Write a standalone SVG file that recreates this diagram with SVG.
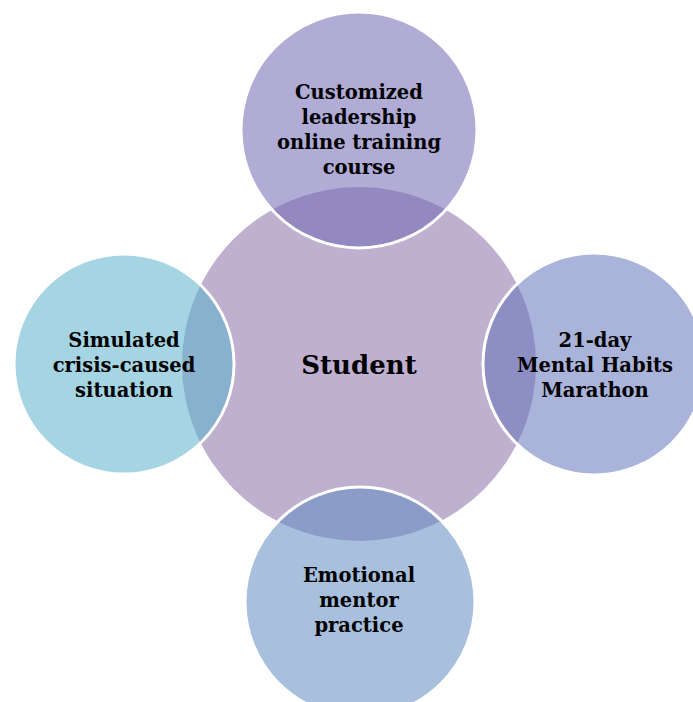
<svg xmlns="http://www.w3.org/2000/svg" width="693" height="702" viewBox="0 0 693 702">
<style>
.outer{stroke:#ffffff;stroke-width:3;fill-opacity:0.55}
.lbl{font-family:"DejaVu Serif","Liberation Serif",serif;font-weight:bold;font-size:19.5px;fill:#000;text-anchor:middle}
.main{font-family:"DejaVu Serif","Liberation Serif",serif;font-weight:bold;font-size:26px;fill:#000;text-anchor:middle}
</style>
<rect width="693" height="702" fill="#ffffff"/>
<g id="student">
<circle cx="359" cy="364" r="177" fill="#BFB0D0"/>
<text class="main" x="359" y="374">Student</text>
</g>
<g id="connectors"></g>
<g id="course">
<circle class="outer" cx="359" cy="130" r="118" fill="#7168B3"/>
<text class="lbl" x="359" y="99">Customized</text>
<text class="lbl" x="359" y="124">leadership</text>
<text class="lbl" x="359" y="149">online training</text>
<text class="lbl" x="359" y="174">course</text>
</g>
<g id="marathon">
<circle class="outer" cx="594" cy="364" r="111" fill="#6475BA"/>
<text class="lbl" x="595" y="347">21-day</text>
<text class="lbl" x="595" y="372">Mental Habits</text>
<text class="lbl" x="595" y="397">Marathon</text>
</g>
<g id="mentor">
<circle class="outer" cx="360" cy="602" r="115" fill="#618CC1"/>
<text class="lbl" x="359" y="582">Emotional</text>
<text class="lbl" x="359" y="607">mentor</text>
<text class="lbl" x="359" y="632">practice</text>
</g>
<g id="crisis">
<circle class="outer" cx="124" cy="364" r="110" fill="#5BB3CC"/>
<text class="lbl" x="124" y="347">Simulated</text>
<text class="lbl" x="124" y="372">crisis-caused</text>
<text class="lbl" x="124" y="397">situation</text>
</g>
</svg>
